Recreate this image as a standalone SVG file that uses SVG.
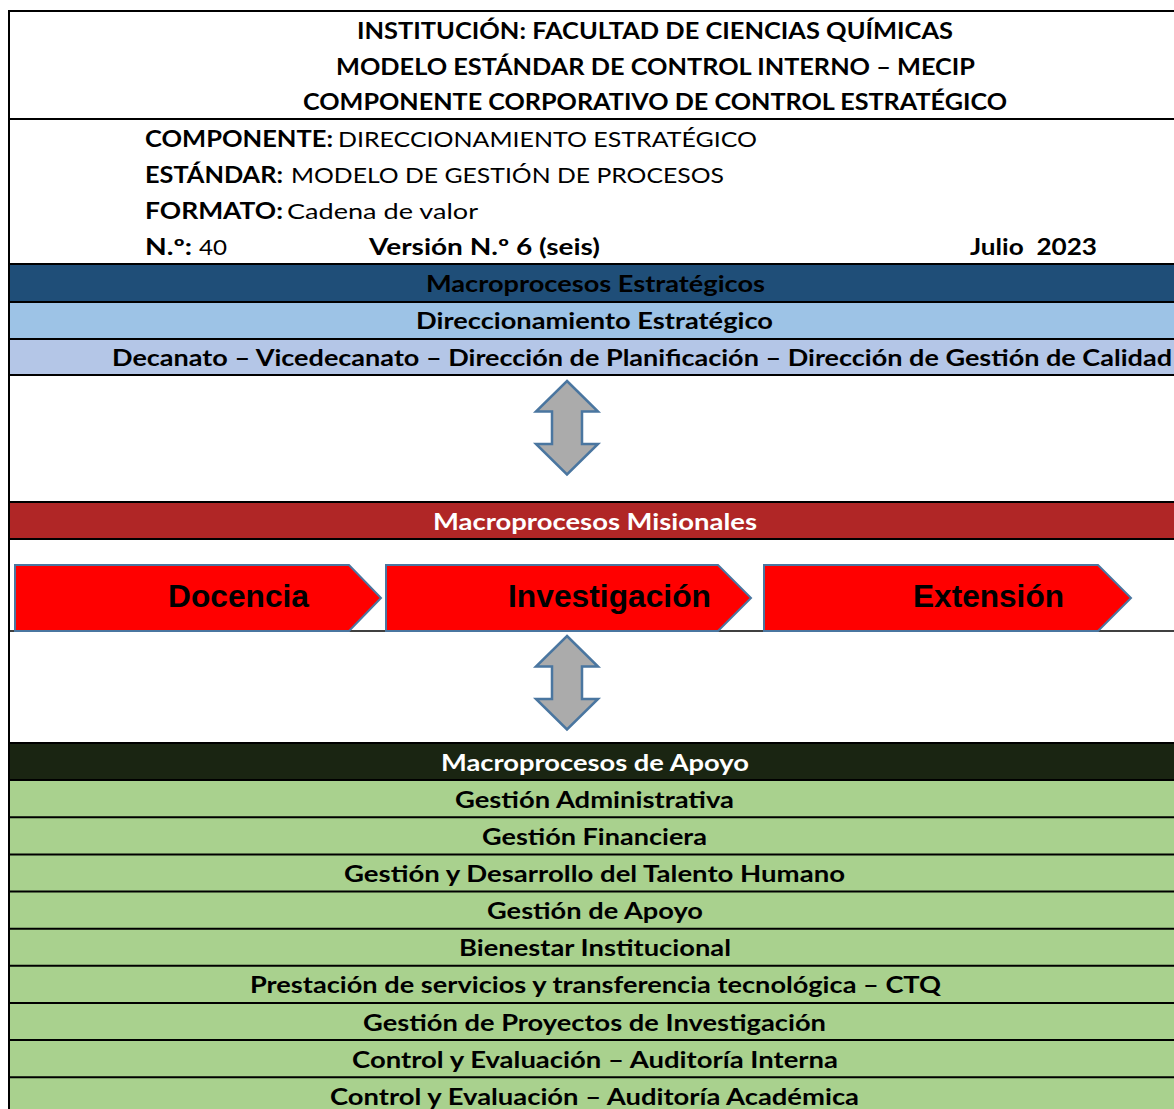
<svg xmlns="http://www.w3.org/2000/svg" width="1174" height="1109" viewBox="0 0 1174 1109">
<style>
.t{font-family:Lato,"Open Sans","Liberation Sans",sans-serif;font-size:22px;fill:#000}
.b{font-weight:bold}
.c{text-anchor:middle}
.w{fill:#fff}
.h{font-size:23px}
.ln{stroke:#000;stroke-width:2;fill:none}
.chev{fill:#FF0000;stroke:#4A76A0;stroke-width:2}
.dbl{fill:#ABABAB;stroke:#4A76A0;stroke-width:2.5;stroke-linejoin:miter}
.ct{font-family:"Liberation Sans",Arial,sans-serif;font-weight:bold;font-size:31px;fill:#000}
</style>
<rect width="1174" height="1109" fill="#fff"/>
<g id="bands">
<rect x="9" y="264" width="1165" height="38" fill="#1F4E78"/>
<rect x="9" y="302" width="1165" height="37" fill="#9DC3E6"/>
<rect x="9" y="339" width="1165" height="36" fill="#B4C6E7"/>
<rect x="9" y="502" width="1165" height="37" fill="#B02626"/>
<rect x="9" y="743" width="1165" height="37" fill="#1A2512"/>
<rect x="9" y="780" width="1165" height="329" fill="#A9D18E"/>
</g>
<g id="grid">
<path class="ln" d="M9 11H1174M9 119H1174M9 264H1174M9 302H1174M9 339H1174M9 375H1174M9 502H1174M9 539H1174M9 743H1174M9 780.1H1174M9 817.3H1174M9 854.4H1174M9 891.6H1174M9 928.7H1174M9 965.8H1174M9 1003H1174M9 1040.1H1174M9 1077.3H1174"/>
<path d="M9 631H1174" stroke="#000" stroke-width="1.5"/>
<path class="ln" d="M9 10V1109"/>
</g>
<g id="header">
<text class="t b c h" x="655" y="39" textLength="596" lengthAdjust="spacingAndGlyphs">INSTITUCIÓN: FACULTAD DE CIENCIAS QUÍMICAS</text>
<text class="t b c h" x="655.5" y="74.5" textLength="639" lengthAdjust="spacingAndGlyphs">MODELO ESTÁNDAR DE CONTROL INTERNO – MECIP</text>
<text class="t b c h" x="655" y="110" textLength="704" lengthAdjust="spacingAndGlyphs">COMPONENTE CORPORATIVO DE CONTROL ESTRATÉGICO</text>
</g>
<g id="info">
<text class="t b" x="145" y="147" textLength="188" lengthAdjust="spacingAndGlyphs">COMPONENTE:</text>
<text class="t" x="338" y="147" textLength="419" lengthAdjust="spacingAndGlyphs">DIRECCIONAMIENTO ESTRATÉGICO</text>
<text class="t b" x="145" y="183" textLength="138" lengthAdjust="spacingAndGlyphs">ESTÁNDAR:</text>
<text class="t" x="291" y="183" textLength="433" lengthAdjust="spacingAndGlyphs">MODELO DE GESTIÓN DE PROCESOS</text>
<text class="t b" x="145" y="219" textLength="138" lengthAdjust="spacingAndGlyphs">FORMATO:</text>
<text class="t" x="287" y="219" textLength="191" lengthAdjust="spacingAndGlyphs">Cadena de valor</text>
<text class="t b" x="145" y="255" textLength="47" lengthAdjust="spacingAndGlyphs">N.º:</text>
<text class="t" x="199" y="255" textLength="28" lengthAdjust="spacingAndGlyphs">40</text>
<text class="t b" x="369" y="255" textLength="231" lengthAdjust="spacingAndGlyphs">Versión N.º 6 (seis)</text>
<text class="t b" x="970" y="255" textLength="127" lengthAdjust="spacingAndGlyphs" xml:space="preserve">Julio  2023</text>
</g>
<g id="estrategicos">
<text class="t b c" x="595.5" y="292" textLength="339" lengthAdjust="spacingAndGlyphs">Macroprocesos Estratégicos</text>
<text class="t b c" x="594.5" y="329" textLength="357" lengthAdjust="spacingAndGlyphs">Direccionamiento Estratégico</text>
<text class="t b" x="112" y="365.5" textLength="1060" lengthAdjust="spacingAndGlyphs">Decanato – Vicedecanato – Dirección de Planificación – Dirección de Gestión de Calidad</text>
</g>
<g id="connectors">
<polygon class="dbl" points="567,381 598,411.5 582,411.5 582,444 598,444 567,474.5 536,444 552,444 552,411.5 536,411.5"/>
<polygon class="dbl" points="567,636 598,666.5 582,666.5 582,699 598,699 567,729.5 536,699 552,699 552,666.5 536,666.5"/>
</g>
<g id="misionales">
<text class="t b c w" x="595" y="529.5" textLength="324" lengthAdjust="spacingAndGlyphs">Macroprocesos Misionales</text>
</g>
<g id="docencia">
<polygon class="chev" points="15,565 349,565 381,598 349,631 15,631"/>
<text class="ct" x="168" y="607" textLength="141" lengthAdjust="spacingAndGlyphs">Docencia</text>
</g>
<g id="investigacion">
<polygon class="chev" points="386,565 718,565 751,598 718,631 386,631"/>
<text class="ct" x="508" y="607" textLength="203" lengthAdjust="spacingAndGlyphs">Investigación</text>
</g>
<g id="extension">
<polygon class="chev" points="764,565 1098,565 1131,598 1098,631 764,631"/>
<text class="ct" x="913" y="607" textLength="151" lengthAdjust="spacingAndGlyphs">Extensión</text>
</g>
<g id="apoyo">
<text class="t b c w" x="595" y="770.5" textLength="308" lengthAdjust="spacingAndGlyphs">Macroprocesos de Apoyo</text>
<text class="t b c" x="594.5" y="807.6" textLength="279" lengthAdjust="spacingAndGlyphs">Gestión Administrativa</text>
<text class="t b c" x="594.5" y="844.8" textLength="225" lengthAdjust="spacingAndGlyphs">Gestión Financiera</text>
<text class="t b c" x="594.5" y="881.9" textLength="501" lengthAdjust="spacingAndGlyphs">Gestión y Desarrollo del Talento Humano</text>
<text class="t b c" x="595" y="919.1" textLength="216" lengthAdjust="spacingAndGlyphs">Gestión de Apoyo</text>
<text class="t b c" x="595" y="956.2" textLength="272" lengthAdjust="spacingAndGlyphs">Bienestar Institucional</text>
<text class="t b c" x="595.5" y="993.3" textLength="691" lengthAdjust="spacingAndGlyphs">Prestación de servicios y transferencia tecnológica – CTQ</text>
<text class="t b c" x="594.5" y="1030.5" textLength="463" lengthAdjust="spacingAndGlyphs">Gestión de Proyectos de Investigación</text>
<text class="t b c" x="595" y="1067.6" textLength="486" lengthAdjust="spacingAndGlyphs">Control y Evaluación – Auditoría Interna</text>
<text class="t b c" x="594.5" y="1104.8" textLength="529" lengthAdjust="spacingAndGlyphs">Control y Evaluación – Auditoría Académica</text>
</g>
</svg>
